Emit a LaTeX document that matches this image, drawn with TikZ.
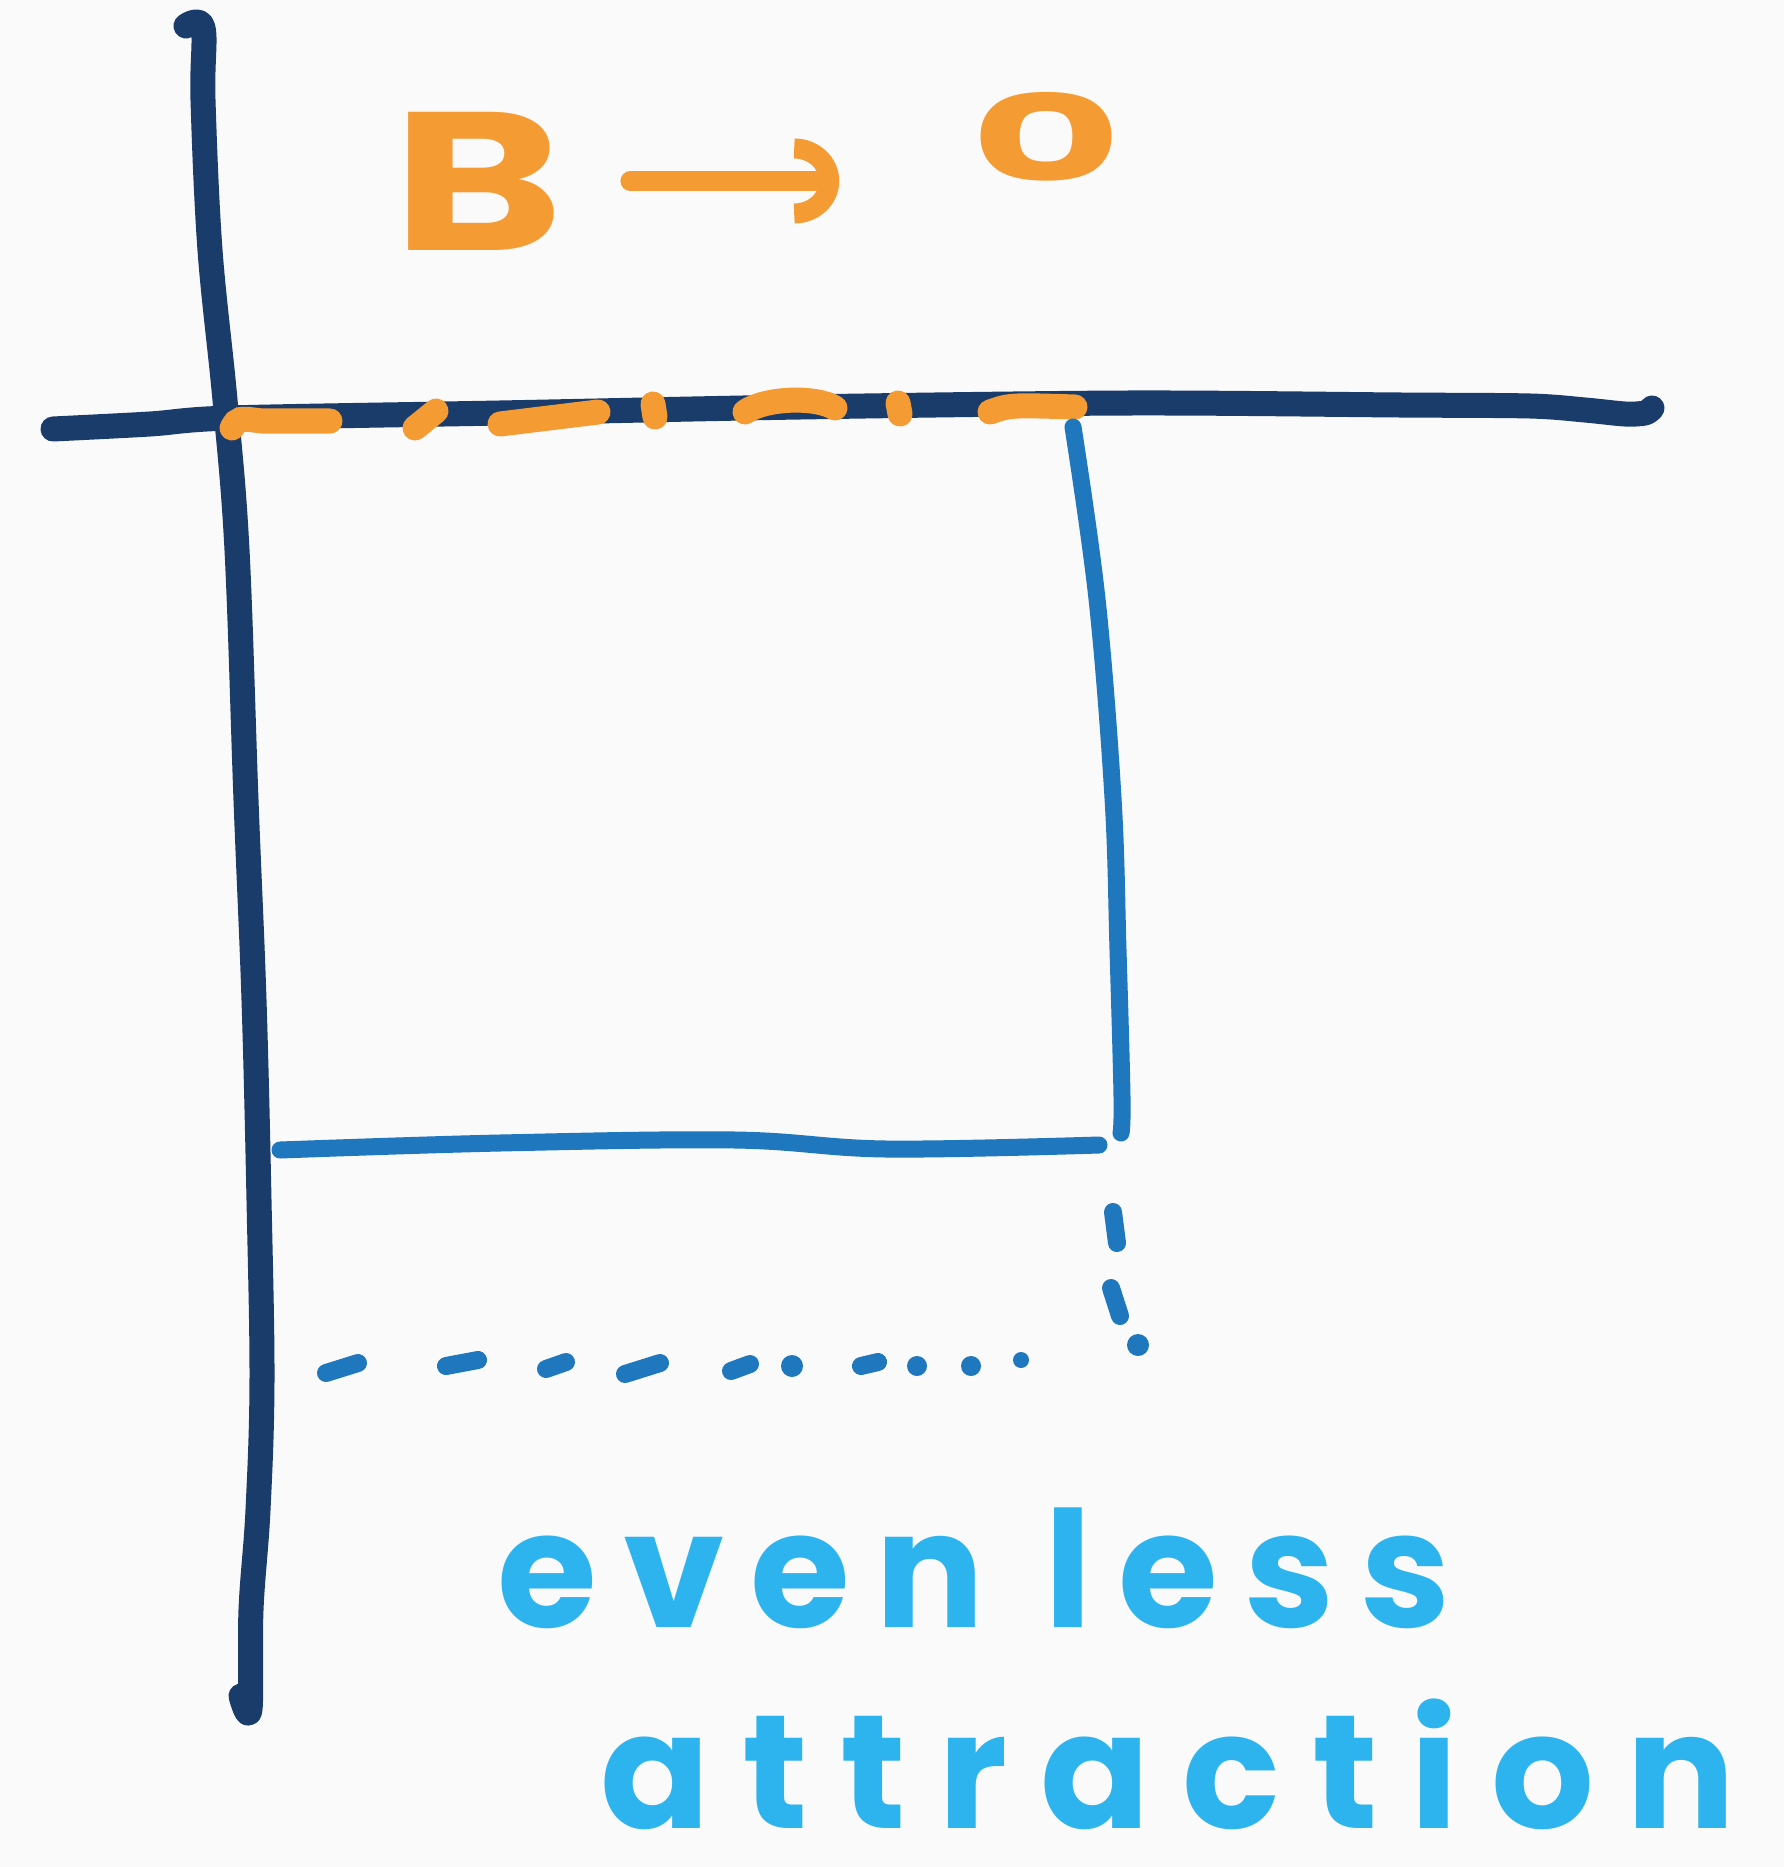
\documentclass[tikz,border=0pt]{standalone}
\usepackage{fontspec}
\setmainfont{Poppins}
\usetikzlibrary{arrows.meta}
\definecolor{navy}{HTML}{1A3C6A}
\definecolor{rectblue}{HTML}{1F77BE}
\definecolor{txtblue}{HTML}{2DB4EE}
\definecolor{orng}{HTML}{F59B34}
\definecolor{bgc}{HTML}{FAFAFA}
\begin{document}
\begin{tikzpicture}[x=0.01cm,y=-0.01cm,
  axis/.style={navy,line width=0.25cm,line cap=round,line join=round},
  rectline/.style={rectblue,line width=0.17cm,line cap=round,line join=round},
  dotline/.style={rectblue,line width=0.18cm,line cap=round},
  odash/.style={orng,line width=0.25cm,line cap=round},
  otext/.style={orng,inner sep=0pt},
  btext/.style={txtblue,inner sep=0pt,anchor=base west}]
\fill[bgc] (0,0) rectangle (1784,1867);
\useasboundingbox (0,0) rectangle (1784,1867);
% vertical axis
\draw[axis] plot[smooth,tension=0.6] coordinates {(186,26) (203,28) (203,100) (210,250) (225,400) (237,550) (246,800) (254,1000) (259,1200) (262,1380) (258,1510) (251,1610) (250,1709) (241,1696)};
% horizontal axis
\draw[axis] plot[smooth,tension=0.5] coordinates {(53,429) (150,424) (230,418) (500,413) (800,407) (1130,403) (1400,405) (1530,406) (1585,410) (1625,414) (1645,413) (1652,408)};
% orange dashed line
\draw[odash] (232,428) .. controls (238,418) .. (262,421) -- (330,421);
\draw[odash] (415,428) -- (436,411);
\draw[odash] (500,424) -- (598,412);
\draw[odash] (653,404) -- (655,417);
\draw[odash] (745,412) .. controls (765,398) and (815,396) .. (835,408);
\draw[odash] (898,403) -- (900,414);
\draw[odash] (990,412) .. controls (1010,405) .. (1075,407);
% rectangle
\draw[rectline] plot[smooth,tension=0.6] coordinates {(1073,427) (1097,599) (1113,798) (1118,950) (1122,1097) (1121,1133)};
\draw[rectline] plot[smooth,tension=0.6] coordinates {(280,1150) (500,1143) (735,1140) (886,1149) (1099,1145)};
% dotted lines
\draw[dotline] (1113,1212) -- (1117,1243);
\draw[dotline] (1111,1288) -- (1120,1316);
\fill[rectblue] (1138,1345) circle[radius=11];
\draw[dotline] (326,1373) -- (358,1363);
\draw[dotline] (446,1366) -- (478,1360);
\draw[dotline] (546,1369) -- (566,1362);
\draw[dotline] (625,1374) -- (660,1363);
\draw[dotline] (731,1371) -- (750,1364);
\fill[rectblue] (792,1366) circle[radius=11];
\draw[dotline] (861,1366) -- (878,1362);
\fill[rectblue] (917,1366) circle[radius=10];
\fill[rectblue] (971,1366) circle[radius=10];
\fill[rectblue] (1021,1360) circle[radius=8];
% B -> 0
\node[otext,font=\bfseries\fontsize{56}{60}\selectfont] (B) at (478,181) {\scalebox{1.32}[1]{B}};
\node[otext,font=\bfseries\fontsize{34}{38}\selectfont] (Z) at (1046,137) {\scalebox{1.95}[1]{0}};
\draw[orng,line width=0.2cm,line cap=round,shorten <=0.66cm,shorten >=1.3cm,-{Arc Barb[width=0.85cm,length=0.45cm]}] (B.east) -- (B.east -| Z.west);
% text
\node[btext,font=\bfseries\fontsize{46}{50}\selectfont\addfontfeatures{LetterSpace=16}] (t1) at (497,1627) {even less};
\node[btext,font=\bfseries\fontsize{46}{50}\selectfont\addfontfeatures{LetterSpace=20}] (t2) at (600,1828) {attraction};
\end{tikzpicture}
\end{document}
